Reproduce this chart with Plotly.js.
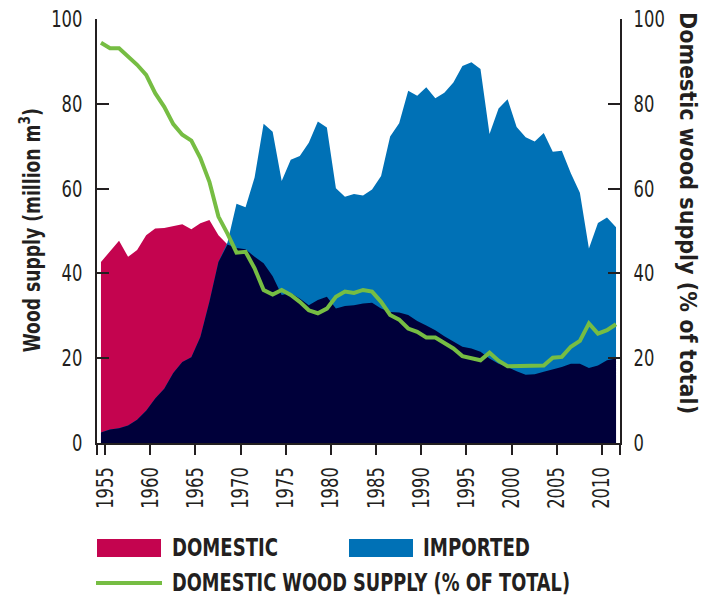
<!DOCTYPE html>
<html>
<head>
<meta charset="utf-8">
<script src="https://cdn.plot.ly/plotly-3.0.1.min.js"></script>
<style>html,body{margin:0;padding:0;background:#fff;}#chart{width:713px;height:598px;}</style>
</head>
<body>
<div id="chart"></div>
<script>
// ---- data ----
const years = [1955,1956,1957,1958,1959,1960,1961,1962,1963,1964,1965,1966,1967,1968,1969,1970,1971,1972,1973,1974,1975,1976,1977,1978,1979,1980,1981,1982,1983,1984,1985,1986,1987,1988,1989,1990,1991,1992,1993,1994,1995,1996,1997,1998,1999,2000,2001,2002,2003,2004,2005,2006,2007,2008,2009,2010,2011,2012];
const domestic = [42.7,45.2,47.7,43.9,45.5,49.0,50.6,50.7,51.2,51.6,50.4,51.8,52.6,49.0,46.8,46.0,45.7,43.9,42.4,39.3,34.9,35.4,34.1,32.5,33.7,34.5,31.7,32.3,32.5,32.9,33.1,31.7,30.9,30.8,30.2,28.8,27.7,26.6,25.2,23.9,22.7,22.3,21.5,19.9,18.7,17.9,16.9,16.1,16.2,16.8,17.3,17.9,18.7,18.7,17.7,18.3,19.5,19.9];
const imported = [2.5,3.2,3.5,4.1,5.5,7.6,10.5,12.8,16.5,19.1,20.2,25.0,33.3,42.7,47.3,56.4,55.6,62.6,75.3,73.4,61.8,66.8,67.7,70.8,75.8,74.4,60.1,58.1,58.7,58.4,59.8,63.0,72.3,75.4,83.1,81.9,83.9,81.3,82.6,85.0,88.9,89.8,88.2,72.9,78.9,81.1,74.5,72.1,71.1,73.1,68.7,68.9,63.6,59.0,45.9,51.9,53.2,50.9];
const domesticShare = [94.4,93.1,93.1,91.1,89.2,86.8,82.5,79.3,75.2,72.7,71.3,67.2,61.6,53.4,49.4,44.9,45.1,41.2,36.1,35.0,36.1,34.9,33.3,31.3,30.6,31.7,34.5,35.7,35.4,36.1,35.7,33.3,30.2,29.1,27.0,26.2,24.9,24.9,23.5,22.3,20.5,19.9,19.5,21.3,19.4,18.1,18.2,18.1,18.3,18.3,20.1,20.3,22.7,24.1,28.2,25.8,26.6,28.0];
const tickYears = [1955,1960,1965,1970,1975,1980,1985,1990,1995,2000,2005,2010];
const yTicks = [0,20,40,60,80,100];
const legendLabels = ["DOMESTIC","IMPORTED","DOMESTIC WOOD SUPPLY (% OF TOTAL)"];
const leftTitle = "Wood supply (million m<sup>3</sup>)";
const rightTitle = "Domestic wood supply (% of total)";

// ---- styling ----
const C_DOM = "#C4044F", C_IMP = "#0071B6", C_BOTH = "#00003A", C_GREEN = "#76BD43", C_INK = "#231F20";
const FONT = "'DejaVu Sans Condensed', 'Liberation Sans Narrow', 'Arial Narrow', sans-serif";

// overlap of the two areas (both drawn from zero)
const overlap = domestic.map((d, i) => Math.min(d, imported[i]));

const W = 713, H = 598, L = 97, R = 620, T = 19, B = 443;
const px = x => (x - L) / (R - L);
const py = y => (B - y) / (B - T);
const xRange = [1954.56, 2012.44];

const traces = [
  {x: years, y: domestic, type: "scatter", mode: "lines", fill: "tozeroy", fillcolor: C_DOM, line: {width: 0, color: C_DOM}, hoverinfo: "skip"},
  {x: years, y: imported, type: "scatter", mode: "lines", fill: "tozeroy", fillcolor: C_IMP, line: {width: 0, color: C_IMP}, hoverinfo: "skip"},
  {x: years, y: overlap, type: "scatter", mode: "lines", fill: "tozeroy", fillcolor: C_BOTH, line: {width: 0, color: C_BOTH}, hoverinfo: "skip"},
  {x: years, y: domesticShare, yaxis: "y2", type: "scatter", mode: "lines", line: {width: 4, color: C_GREEN}, hoverinfo: "skip"}
];

const tickFont = {family: FONT, size: 23, color: C_INK};
const yCommon = {range: [0, 100], tickvals: yTicks, ticktext: yTicks.map(String), showgrid: false, zeroline: false,
  showline: true, linewidth: 2, linecolor: C_INK, ticks: "inside", ticklen: 12, tickwidth: 2, tickcolor: C_INK,
  tickfont: tickFont, fixedrange: true};

const boldFont = s => ({family: FONT, size: s, color: C_INK, weight: "bold"});

// year ticks sit slightly right of the data point, plus plain ticks at both axis ends
const xTickVals = [xRange[0]].concat(tickYears.map(y => y + 0.45), [xRange[1]]);
const xTickText = [""].concat(tickYears.map(String), [""]);

const layout = {
  width: W, height: H,
  margin: {l: L, r: W - R, t: T, b: H - B},
  paper_bgcolor: "#fff", plot_bgcolor: "#fff",
  showlegend: false,
  xaxis: {range: xRange, tickvals: xTickVals, ticktext: xTickText,
    tickangle: -90, showgrid: false, zeroline: false, showline: true, linewidth: 2, linecolor: C_INK,
    ticks: "outside", ticklen: 10, tickwidth: 2, tickcolor: C_INK, tickfont: tickFont, ticklabelstandoff: 3},
  yaxis: Object.assign({}, yCommon, {side: "left", ticklabelstandoff: 8}),
  yaxis2: Object.assign({}, yCommon, {side: "right", overlaying: "y", ticklabelstandoff: 7}),
  shapes: [
    {type: "rect", xref: "paper", yref: "paper", x0: px(97), x1: px(161), y0: py(557), y1: py(539), fillcolor: C_DOM, line: {width: 0}},
    {type: "rect", xref: "paper", yref: "paper", x0: px(349), x1: px(413), y0: py(557), y1: py(539), fillcolor: C_IMP, line: {width: 0}},
    {type: "line", xref: "paper", yref: "paper", x0: px(96), x1: px(162), y0: py(583), y1: py(583), line: {color: C_GREEN, width: 4}}
  ],
  annotations: [
    {xref: "paper", yref: "paper", x: px(30), y: py(230), text: leftTitle, textangle: -90, showarrow: false,
      font: boldFont(23), xanchor: "center", yanchor: "middle"},
    {xref: "paper", yref: "paper", x: px(688), y: py(213), text: rightTitle, textangle: 90, showarrow: false,
      font: boldFont(23), xanchor: "center", yanchor: "middle"},
    {xref: "paper", yref: "paper", x: px(170), y: py(548), text: legendLabels[0], showarrow: false, align: "left",
      font: boldFont(24), xanchor: "left", yanchor: "middle"},
    {xref: "paper", yref: "paper", x: px(421), y: py(548), text: legendLabels[1], showarrow: false, align: "left",
      font: boldFont(24), xanchor: "left", yanchor: "middle"},
    {xref: "paper", yref: "paper", x: px(170), y: py(583), text: legendLabels[2], showarrow: false, align: "left",
      font: boldFont(24), xanchor: "left", yanchor: "middle"}
  ]
};

// widths of the condensed lettering in the reference
const annWidths = [244, 407, 106, 107, 398];
const digitWidth = 10.4;

Plotly.newPlot("chart", traces, layout, {staticPlot: true, displayModeBar: false}).then(gd => {
  const squeeze = (el, target) => {
    if (!el.textContent) return;
    const cur = el.getComputedTextLength();
    if (cur > target) { el.setAttribute("textLength", target); el.setAttribute("lengthAdjust", "spacingAndGlyphs"); }
  };
  gd.querySelectorAll(".xtick text, .ytick text, .y2tick text").forEach(t => squeeze(t, t.textContent.length * digitWidth));
  gd.querySelectorAll(".annotation-text").forEach((t, i) => squeeze(t, annWidths[i]));
});
</script>
</body>
</html>
